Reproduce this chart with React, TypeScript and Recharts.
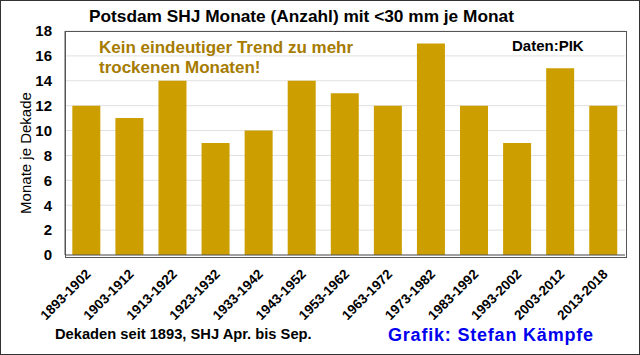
import { Bar, BarChart, CartesianGrid, XAxis, YAxis } from 'recharts';

const decades = [
  '1893-1902', '1903-1912', '1913-1922', '1923-1932', '1933-1942', '1943-1952', '1953-1962',
  '1963-1972', '1973-1982', '1983-1992', '1993-2002', '2003-2012', '2013-2018',
];
const months = [12, 11, 14, 9, 10, 14, 13, 12, 17, 12, 9, 15, 12];
const yTicks = [0, 2, 4, 6, 8, 10, 12, 14, 16, 18];

const data = decades.map((d, i) => ({ decade: d, months: months[i] }));

const font = 'Arial, "Liberation Sans", sans-serif';

const DecadeTick = (props: any) => {
  const { x, y, payload } = props;
  return (
    <text
      x={x + 5}
      y={y + 12}
      textAnchor="end"
      transform={`rotate(-45, ${x + 5}, ${y + 12})`}
      fontSize={13.5}
      fontWeight="bold"
      fill="#000"
      fontFamily={font}
    >
      {payload.value}
    </text>
  );
};

const App = () => {
  return (
    <div
      style={{
        position: 'absolute',
        left: 0,
        top: 0,
        width: 640,
        height: 355,
        background: '#fff',
        fontFamily: font,
        boxSizing: 'border-box',
        border: '1px solid #333',
      }}
    >
      <div style={{ position: 'absolute', left: -1, top: -1 }}>
        <BarChart
          width={640}
          height={355}
          data={data}
          margin={{ top: 31, right: 15, bottom: 0, left: 0 }}
          barCategoryGap="17%"
        >
          <CartesianGrid vertical={false} stroke="#e0e0e0" />
          <XAxis
            dataKey="decade"
            interval={0}
            tickLine={false}
            axisLine={{ stroke: '#555' }}
            tick={<DecadeTick />}
            height={100}
          />
          <YAxis
            domain={[0, 18]}
            ticks={yTicks}
            interval={0}
            width={65}
            tickLine={false}
            tickSize={6}
            tickMargin={7}
            axisLine={{ stroke: '#555' }}
            tick={{ fontSize: 15, fontWeight: 'bold', fill: '#000', fontFamily: font }}
          />
          <Bar dataKey="months" fill="#CC9E00" isAnimationActive={false} />
        </BarChart>
      </div>
      {/* plot frame */}
      <div
        style={{
          position: 'absolute',
          left: 64,
          top: 30,
          width: 560,
          height: 225,
          border: '1px solid #555',
          pointerEvents: 'none',
        }}
      />
      <div style={{ position: 'absolute', left: 88, top: 5, fontSize: 17.3, fontWeight: 'bold', whiteSpace: 'nowrap' }}>
        Potsdam SHJ Monate (Anzahl) mit &lt;30 mm je Monat
      </div>
      <div
        style={{
          position: 'absolute',
          left: 98,
          top: 37,
          fontSize: 17,
          fontWeight: 'bold',
          color: '#A67B00',
          lineHeight: '20px',
          whiteSpace: 'nowrap',
        }}
      >
        Kein eindeutiger Trend zu mehr
        <br />
        trockenen Monaten!
      </div>
      <div style={{ position: 'absolute', left: 511, top: 36, fontSize: 15, fontWeight: 'bold' }}>Daten:PIK</div>
      <div
        style={{
          position: 'absolute',
          left: 24,
          top: 152,
          fontSize: 15,
          transform: 'translate(-50%, -50%) rotate(-90deg)',
          whiteSpace: 'nowrap',
        }}
      >
        Monate je Dekade
      </div>
      <div style={{ position: 'absolute', left: 54, top: 325, fontSize: 14.7, fontWeight: 'bold', whiteSpace: 'nowrap' }}>
        Dekaden seit 1893, SHJ Apr. bis Sep.
      </div>
      <div
        style={{
          position: 'absolute',
          left: 387,
          top: 324,
          fontSize: 18,
          letterSpacing: 0.8,
          fontWeight: 'bold',
          color: '#0000EE',
          whiteSpace: 'nowrap',
        }}
      >
        Grafik: Stefan Kämpfe
      </div>
    </div>
  );
};

export default App;
